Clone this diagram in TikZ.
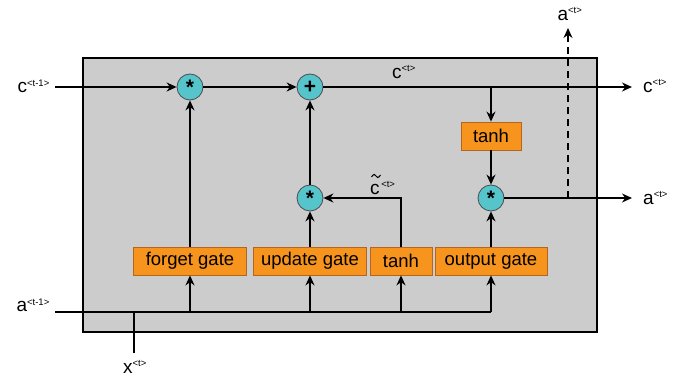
\documentclass[tikz,border=0pt]{standalone}
\usepackage{fontspec}
\setmainfont{Liberation Sans}
\usetikzlibrary{arrows.meta}
\definecolor{cellgray}{HTML}{CCCCCC}
\definecolor{gateorange}{HTML}{F7941D}
\definecolor{gateedge}{HTML}{B5651D}
\definecolor{opcyan}{HTML}{55C4CB}
\newcommand{\lbl}[2]{#1\textsuperscript{\fontsize{9.5}{9.5}\selectfont#2}}
\begin{document}
\begin{tikzpicture}[x=1pt,y=-1pt,
  gatebox/.style={draw=gateedge,fill=gateorange,line width=0.8pt,minimum height=28pt,inner sep=0pt,font=\fontsize{18.5}{20}\selectfont},
  op/.style={circle,draw=black!70,fill=opcyan,line width=0.8pt,minimum size=26pt,inner sep=0pt,font=\fontsize{21}{21}\selectfont\bfseries},
  lab/.style={font=\fontsize{19}{21}\selectfont,inner sep=0pt},
  wire/.style={line width=1.3pt},
  arr/.style={wire,-{Stealth[length=10pt,width=9pt]}}]
\useasboundingbox (0,0) rectangle (689,377);
\fill[cellgray,draw=black,line width=1.2pt] (83,58) rectangle (597,332);
% nodes
\node[op] (m1) at (190,87) {*};
\node[op] (p1) at (310,87) {+};
\node[op] (m2) at (310,198) {*};
\node[op] (m3) at (491,198) {*};
\node[gatebox,minimum width=60pt] (th1) at (491,136) {tanh};
\node[gatebox,minimum width=113pt] (fg) at (190,261) {forget gate};
\node[gatebox,minimum width=113pt] (ug) at (310,261) {update gate};
\node[gatebox,minimum width=62pt] (th2) at (401,261) {tanh};
\node[gatebox,minimum width=112pt] (og) at (491,261) {output gate};
% labels
\node[lab,anchor=east] (cin) at (50,86) {\lbl{c}{<t-1>}};
\node[lab,anchor=west] (cout) at (643,86) {\lbl{c}{<t>}};
\node[lab] (cmid) at (404,72) {\lbl{c}{<t>}};
\node[lab,anchor=west] (aout) at (643,198) {\lbl{a}{<t>}};
\node[lab] (atop) at (570,14) {\lbl{a}{<t>}};
\node[lab,anchor=east] (ain) at (50,305) {\lbl{a}{<t-1>}};
\node[lab] (xin) at (135,367) {\lbl{x}{<t>}};
\node[lab,anchor=west] (ctl) at (370,188) {c\textsuperscript{\fontsize{9.5}{9.5}\selectfont\,<t>}};
\draw[line width=1pt] (371.5,177) .. controls (373.5,173.5) and (375.5,174) .. (376,176) .. controls (376.5,178) and (378.5,178.5) .. (380.5,175);
% coordinates
\coordinate (cs) at (55,87);
\coordinate (ce) at (632,87);
\coordinate (as) at (55,312);
\coordinate (ae) at (491,312);
\coordinate (xs) at (134,353);
\coordinate (xe) at (134,312);
\coordinate (ao) at (632,198);
\coordinate (dj) at (568,198);
\coordinate (dt) at (568,28);
\coordinate (ct) at (491,87);
% c line
\draw[arr] (cs) -- (m1);
\draw[arr] (m1) -- (p1);
\draw[arr] (p1) -- (ce);
\draw[arr] (ct) -- (th1);
\draw[arr] (th1) -- (m3);
\draw[arr] (m3) -- (ao);
\draw[wire,dash pattern=on 7pt off 5pt,-{Stealth[length=10pt,width=9pt]}] (dj) -- (dt);
% gates
\draw[arr] (fg) -- (m1);
\draw[arr] (ug) -- (m2);
\draw[arr] (m2) -- (p1);
\draw[arr] (og) -- (m3);
\draw[arr] (th2.north) |- (m2);
% inputs
\draw[wire] (as) -- (ae);
\draw[wire] (xs) -- (xe);
\draw[arr] (fg.south |- as) -- (fg);
\draw[arr] (ug.south |- as) -- (ug);
\draw[arr] (th2.south |- as) -- (th2);
\draw[arr] (ae) -- (ae |- og.south);
\end{tikzpicture}
\end{document}
